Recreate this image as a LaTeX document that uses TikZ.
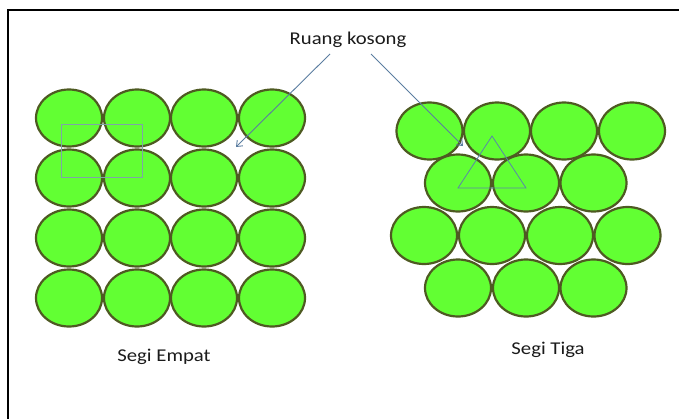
\documentclass[tikz,border=0pt]{standalone}
\usepackage{fontspec}
\setmainfont{Carlito}
\newfontfamily\lblfont[FakeStretch=1.15]{Carlito}
\usetikzlibrary{shapes.geometric,arrows.meta}
\definecolor{ballfill}{HTML}{62FF33}
\definecolor{ballline}{HTML}{4E5A22}
\definecolor{arrowcol}{HTML}{5B7DA0}
\definecolor{sqcol}{HTML}{7FA3A8}
\definecolor{tricol}{HTML}{5A87A8}
\definecolor{textcol}{HTML}{1A1A1A}
\begin{document}
\begin{tikzpicture}[x=1pt,y=-1pt,
  ball/.style={ellipse,draw=ballline,fill=ballfill,line width=2.2pt,minimum width=66pt,minimum height=57pt,inner sep=0pt},
  lbl/.style={font=\lblfont\fontsize{18}{20}\selectfont,text=textcol,inner sep=0pt},
  pointer/.style={draw=arrowcol,line width=0.9pt,-{Straight Barb[length=5pt,width=8pt]}},
  frame/.style={line width=2pt,draw=black}]
\useasboundingbox (0,0) rectangle (679,418);
\draw[frame] (8,419) -- (8,10) -- (680,10);
% left square packing
\foreach \r/\y in {1/118,2/178,3/238,4/298}{
  \foreach \c/\x in {1/69,2/137,3/204,4/272}{
    \node[ball] (L\r\c) at (\x,\y) {};
  }
}
% right triangular packing
\foreach \c/\x in {1/429.5,2/497,3/564,4/632}{\node[ball] (R1\c) at (\x,131) {};}
\foreach \c/\x in {1/458,2/526,3/593.5}{\node[ball] (R2\c) at (\x,183) {};}
\foreach \c/\x in {1/424,2/492,3/560,4/627.5}{\node[ball] (R3\c) at (\x,235.5) {};}
\foreach \c/\x in {1/458,2/526,3/593.5}{\node[ball] (R4\c) at (\x,288) {};}
% square and triangle
\draw[sqcol,line width=0.8pt] (61,124) rectangle (142,177);
\draw[tricol,line width=0.8pt] (492,136) -- (458,188) -- (526,188) -- cycle;
% labels
\node[lbl] (rk) at (348,40) {Ruang kosong};
\node[lbl] (se) at (164,357) {Segi Empat};
\node[lbl] (st) at (548,350) {Segi Tiga};
% arrows
\coordinate (a1s) at (330,54);
\coordinate (a1e) at (236,147);
\coordinate (a2s) at (371,54);
\coordinate (a2e) at (463,146);
\draw[pointer] (a1s) -- (a1e);
\draw[pointer] (a2s) -- (a2e);
\end{tikzpicture}
\end{document}
